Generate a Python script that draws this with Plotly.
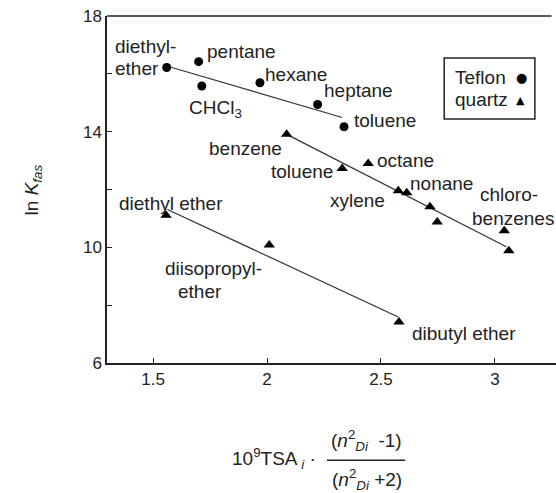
import plotly.graph_objects as go

# ---- data ----
teflon_x = [1.56, 1.70, 1.714, 1.969, 2.222, 2.338]
teflon_y = [16.22, 16.42, 15.58, 15.69, 14.94, 14.17]

quartz_x = [2.086, 2.330, 2.444, 2.576, 2.613, 2.715, 2.747, 3.041, 3.061, 1.557, 2.010, 2.579]
quartz_y = [13.91, 12.73, 12.90, 11.96, 11.89, 11.40, 10.88, 10.57, 9.88, 11.11, 10.08, 7.42]

teflon_fit_x = [1.56, 2.33]
teflon_fit_y = [16.27, 14.49]
quartz_fit1_x = [2.093, 3.05]
quartz_fit1_y = [13.88, 10.02]
quartz_fit2_x = [1.563, 2.576]
quartz_fit2_y = [11.31, 7.59]

x_ticks = [1.5, 2, 2.5, 3]
x_ticklabels = ["1.5", "2", "2.5", "3"]
y_ticks = [6, 8, 10, 12, 14, 16, 18]
y_ticklabels = ["6", " ", "10", " ", "14", " ", "18"]

# point labels: (text, x, y, xanchor)
labels = [
    ("diethyl-", 1.325, 16.94, "left"),
    ("ether", 1.325, 16.19, "left"),
    ("pentane", 1.728, 16.76, "left"),
    ("CHCl<sub>3</sub>", 1.648, 14.80, "left"),
    ("hexane", 1.984, 15.96, "left"),
    ("heptane", 2.24, 15.42, "left"),
    ("toluene", 2.374, 14.40, "left"),
    ("benzene", 1.904, 13.42, "center"),
    ("toluene", 2.298, 12.61, "right"),
    ("octane", 2.474, 13.02, "left"),
    ("nonane", 2.62, 12.21, "left"),
    ("xylene", 2.397, 11.61, "center"),
    ("chloro-", 2.927, 11.81, "left"),
    ("benzenes", 2.89, 11.00, "left"),
    ("diethyl ether", 1.341, 11.52, "left"),
    ("diisopropyl-", 1.764, 9.27, "center"),
    ("ether", 1.706, 8.46, "center"),
    ("dibutyl ether", 2.627, 7.02, "left"),
]

FONT = "Liberation Sans, Arial, sans-serif"
TXT = "#222222"
FS = 19
TFS = 17

fig = go.Figure()
line_style = dict(color="#333333", width=1.2)
fig.add_trace(go.Scatter(x=teflon_fit_x, y=teflon_fit_y, mode="lines", line=line_style, showlegend=False))
fig.add_trace(go.Scatter(x=quartz_fit1_x, y=quartz_fit1_y, mode="lines", line=line_style, showlegend=False))
fig.add_trace(go.Scatter(x=quartz_fit2_x, y=quartz_fit2_y, mode="lines", line=line_style, showlegend=False))
fig.add_trace(go.Scatter(x=teflon_x, y=teflon_y, mode="markers", name="Teflon",
                         marker=dict(symbol="circle", size=9, color="black"), showlegend=False))
fig.add_trace(go.Scatter(x=quartz_x, y=quartz_y, mode="markers", name="quartz",
                         marker=dict(symbol="triangle-up", size=10, color="black"), showlegend=False))

for text, x, y, xa in labels:
    fig.add_annotation(x=x, y=y, xref="x", yref="y", text=text, showarrow=False,
                       xanchor=xa, yanchor="middle", font=dict(family=FONT, size=FS, color=TXT))

# legend box (drawn as text + frame)
fig.add_shape(type="rect", xref="paper", yref="paper", x0=0.751, x1=0.953, y0=0.703, y1=0.879,
              line=dict(color="#222222", width=1.5))
fig.add_annotation(x=0.771, y=0.823, xref="paper", yref="paper", text="Teflon", showarrow=False,
                   xanchor="left", yanchor="middle", font=dict(family=FONT, size=FS, color=TXT))
fig.add_annotation(x=0.771, y=0.758, xref="paper", yref="paper", text="quartz", showarrow=False,
                   xanchor="left", yanchor="middle", font=dict(family=FONT, size=FS, color=TXT))
fig.add_annotation(x=0.924, y=0.823, xref="paper", yref="paper", text="●", showarrow=False,
                   xanchor="center", yanchor="middle", font=dict(family="DejaVu Sans", size=13, color="black"))
fig.add_annotation(x=0.921, y=0.756, xref="paper", yref="paper", text="▲", showarrow=False,
                   xanchor="center", yanchor="middle", font=dict(family="DejaVu Sans", size=11, color="black"))

# y axis title
fig.add_annotation(x=-0.165, y=0.5, xref="paper", yref="paper",
                   text="ln <i>K</i><sub><i>fas</i></sub>", textangle=-90, showarrow=False,
                   xanchor="center", yanchor="middle", font=dict(family=FONT, size=FS, color=TXT))

# x axis title: 10^9 TSA_i · (n²_Di - 1)/(n²_Di + 2)
fig.add_annotation(x=0.371, y=-0.276, xref="paper", yref="paper",
                   text="10<sup>9</sup>TSA<sub> <i>i</i></sub> ·", showarrow=False,
                   xanchor="center", yanchor="middle", font=dict(family=FONT, size=FS, color=TXT))
fig.add_annotation(x=0.578, y=-0.222, xref="paper", yref="paper",
                   text="(<i>n</i><sup>2</sup><sub><i>Di</i></sub>  -1)", showarrow=False,
                   xanchor="center", yanchor="middle", font=dict(family=FONT, size=FS, color=TXT))
fig.add_annotation(x=0.578, y=-0.337, xref="paper", yref="paper",
                   text="(<i>n</i><sup>2</sup><sub><i>Di</i></sub> +2)", showarrow=False,
                   xanchor="center", yanchor="middle", font=dict(family=FONT, size=FS, color=TXT))
fig.add_shape(type="line", xref="paper", yref="paper", x0=0.490, x1=0.664, y0=-0.280, y1=-0.280,
              line=dict(color="#222222", width=1.5))

# top frame line
fig.add_shape(type="line", xref="paper", yref="paper", x0=0, x1=0.99, y0=1, y1=1,
              line=dict(color="#222222", width=1.5))

fig.update_xaxes(range=[1.298, 3.268], tickvals=x_ticks, ticktext=x_ticklabels,
                 ticks="inside", ticklen=5, tickcolor="#222222", showline=True, linecolor="#222222",
                 linewidth=1.5, showgrid=False, zeroline=False,
                 tickfont=dict(family=FONT, size=TFS, color=TXT))
fig.update_yaxes(range=[6, 18], tickvals=y_ticks, ticktext=y_ticklabels,
                 ticks="inside", ticklen=5, tickcolor="#222222", showline=True, linecolor="#222222",
                 linewidth=1.5, showgrid=False, zeroline=False,
                 tickfont=dict(family=FONT, size=TFS, color=TXT))

fig.update_layout(width=556, height=493, margin=dict(l=107, r=0, t=16, b=130),
                  plot_bgcolor="white", paper_bgcolor="white", showlegend=False)

# remove the default page margin so the figure fills the window exactly
fig.write_html("out.html", config={"displayModeBar": False},
               post_script="document.body.style.margin='0';document.body.style.overflow='hidden';")
